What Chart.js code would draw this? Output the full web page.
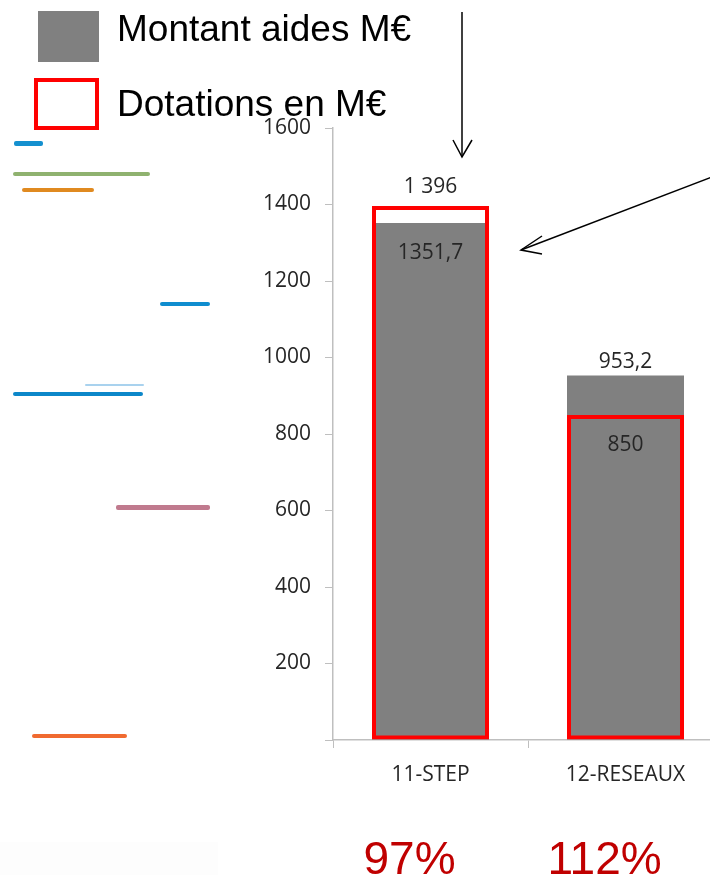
<!DOCTYPE html>
<html>
<head>
<meta charset="utf-8">
<script src="https://cdn.jsdelivr.net/npm/chart.js@4"></script>
<style>
    body { margin: 0; width: 710px; height: 875px; overflow: hidden; background: #fff; position: relative; }
    #myChart1 { position: absolute; left: 0; top: 0; }
    .trait { position: absolute; border-radius: 2px; }
    .legende { position: absolute; font-family: "Liberation Sans", Arial, sans-serif; font-size: 37px; color: #000; white-space: nowrap; }
    #fleches { position: absolute; left: 0; top: 0; }
</style>
</head>
<body>
<!-- restes d'une autre diapo, à gauche -->
<div class="trait" style="left:14px;top:141px;width:29px;height:5px;background:#1490cf"></div>
<div class="trait" style="left:13px;top:172px;width:137px;height:4px;background:#8fb26f"></div>
<div class="trait" style="left:22px;top:188px;width:72px;height:4px;background:#e08a20"></div>
<div class="trait" style="left:160px;top:302px;width:50px;height:4px;background:#0f8dcf"></div>
<div class="trait" style="left:85px;top:384px;width:59px;height:2px;background:#a9d2ee"></div>
<div class="trait" style="left:13px;top:392px;width:130px;height:4px;background:#0c87c9"></div>
<div class="trait" style="left:116px;top:505px;width:94px;height:5px;background:#c07a8e"></div>
<div class="trait" style="left:32px;top:734px;width:95px;height:4px;background:#f06a30"></div>
<div style="position:absolute;left:0;top:842px;width:218px;height:33px;background:#fdfdfd"></div>

<canvas id="myChart1" width="723" height="875"></canvas>

<!-- légende -->
<div style="position:absolute;left:38px;top:11px;width:61px;height:51px;background:#808080"></div>
<div style="position:absolute;left:34px;top:78px;width:57px;height:44px;border:4px solid #ff0000"></div>
<div class="legende" style="left:117px;top:8px">Montant aides M€</div>
<div class="legende" style="left:117px;top:83px">Dotations en M€</div>

<svg id="fleches" width="710" height="875">
    <g stroke="#000" stroke-width="1.5" fill="none">
        <line x1="462" y1="12" x2="462" y2="157"/>
        <polyline points="453,140 462,157 472,140"/>
        <line x1="712" y1="177" x2="521" y2="250"/>
        <polyline points="542,236 521,250 542,254"/>
    </g>
</svg>

<script>
// Données
const categories = ['11-STEP', '12-RESEAUX'];
const montantAides = [1351.7, 953.2];
const dotations = [1396, 850];
const montantLabels = ['1351,7', '953,2'];
const dotationLabels = ['1 396', '850'];
const tauxLabels = ['97%', '112%'];
const yMin = 0, yMax = 1600, yStep = 200;

const texteGris = '#262626';
const policeAxe = '"Open Sans", sans-serif';

// Étiquettes de valeurs + pourcentages
const etiquettes = {
    id: 'etiquettes',
    afterDatasetsDraw(chart) {
        const ctx = chart.ctx;
        const x = chart.scales.x;
        const y = chart.scales.y;
        ctx.save();
        ctx.textAlign = 'center';
        ctx.textBaseline = 'middle';
        ctx.fillStyle = texteGris;
        ctx.font = '21px ' + policeAxe;
        categories.forEach((c, i) => {
            const px = x.getPixelForValue(i);
            const yD = y.getPixelForValue(dotations[i]);
            const yM = y.getPixelForValue(montantAides[i]);
            if (dotations[i] >= montantAides[i]) {
                ctx.fillText(dotationLabels[i], px, yD - 19);
                ctx.fillText(montantLabels[i], px, yM + 30);
            } else {
                ctx.fillText(montantLabels[i], px, yM - 13);
                ctx.fillText(dotationLabels[i], px, yD + 30);
            }
        });
        // taux en rouge sous les catégories
        ctx.fillStyle = '#c00000';
        ctx.font = '46px "Liberation Sans", Arial, sans-serif';
        ctx.textBaseline = 'alphabetic';
        categories.forEach((c, i) => {
            ctx.fillText(tauxLabels[i], x.getPixelForValue(i) - 21, 874);
        });
        ctx.restore();
    }
};

const ctx = document.getElementById('myChart1').getContext('2d');
const chartGeneral = new Chart(ctx, {
    type: 'bar',
    data: {
        labels: categories,
        datasets: [
            {
                label: 'Dotations en M€',
                data: dotations,
                backgroundColor: 'rgba(0,0,0,0)',
                borderColor: '#ff0000',
                borderWidth: 4,
                borderSkipped: false,
                grouped: false,
                order: 0
            },
            {
                label: 'Montant aides M€',
                data: montantAides,
                backgroundColor: '#808080',
                borderWidth: 0,
                grouped: false,
                order: 1
            }
        ]
    },
    options: {
        responsive: false,
        animation: false,
        layout: { padding: { top: 128, right: 0, bottom: 0, left: 0 } },
        datasets: {
            bar: { categoryPercentage: 1, barPercentage: 0.6 }
        },
        scales: {
            x: {
                grid: { display: true, drawOnChartArea: false, drawTicks: true, tickLength: 8, color: '#bfbfbf', offset: true },
                border: { color: '#bfbfbf', width: 1.5 },
                ticks: { color: texteGris, font: { family: policeAxe, size: 21 }, padding: 14 },
                afterFit(scale) { scale.height = 135; }
            },
            y: {
                min: yMin,
                max: yMax,
                grid: { display: true, drawOnChartArea: false, drawTicks: true, tickLength: 8, color: '#bfbfbf' },
                border: { color: '#bfbfbf', width: 1.5 },
                ticks: {
                    stepSize: yStep,
                    color: texteGris,
                    font: { family: policeAxe, size: 21 },
                    padding: 14,
                    callback: v => (v === 0 ? '' : String(v))
                },
                afterFit(scale) { scale.width = 333; }
            }
        },
        plugins: {
            legend: { display: false },
            tooltip: { enabled: false }
        }
    },
    plugins: [etiquettes]
});
</script>
</body>
</html>
